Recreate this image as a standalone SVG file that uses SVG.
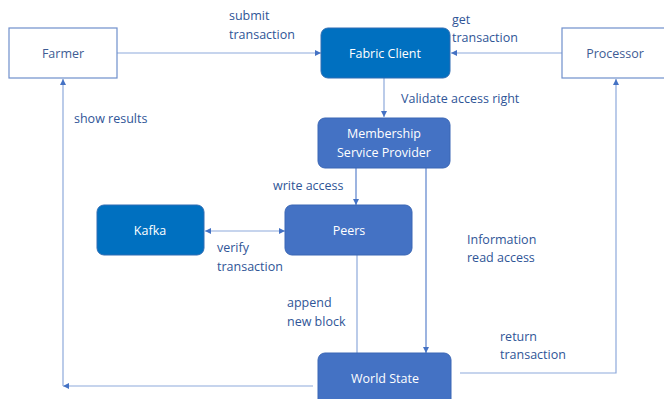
<svg xmlns="http://www.w3.org/2000/svg" width="664" height="399" viewBox="0 0 664 399">
<style>
text{font-family:"Open Sans","Liberation Sans",sans-serif;font-size:12.5px}
.lbl{fill:#2F5597}
.ntw{fill:#ffffff;text-anchor:middle}
.ntb{fill:#3E5C94;text-anchor:middle}
.box{fill:#ffffff;stroke:#6F8FCC;stroke-width:1.2}
.dark{fill:#0070C0;stroke:#2E6DB4;stroke-width:1}
.mid{fill:#4472C4;stroke:#3A66B5;stroke-width:1}
.c{fill:none;stroke:#8EA9DB;stroke-width:1.2}
.c2{fill:none;stroke:#5B82CC;stroke-width:1.2}
</style>
<defs>
<marker id="ah" viewBox="0 0 6 6" refX="6" refY="3" markerWidth="6" markerHeight="6" markerUnits="userSpaceOnUse" orient="auto-start-reverse">
<path d="M0,0 L6,3 L0,6 z" fill="#4472C4"/>
</marker>
</defs>
<rect width="664" height="399" fill="#ffffff"/>
<g id="connectors">
<line class="c" x1="117" y1="53" x2="321" y2="53" marker-end="url(#ah)"/>
<line class="c" x1="562" y1="53" x2="451" y2="53" marker-end="url(#ah)"/>
<line class="c" x1="384" y1="78" x2="384" y2="117" marker-end="url(#ah)"/>
<line class="c2" x1="356" y1="168" x2="356" y2="205" marker-end="url(#ah)"/>
<line class="c2" x1="426" y1="168" x2="426" y2="353" marker-end="url(#ah)"/>
<line class="c" x1="205" y1="231" x2="285" y2="231" marker-start="url(#ah)" marker-end="url(#ah)"/>
<line class="c" x1="357" y1="255" x2="357" y2="353"/>
<line class="c" x1="313" y1="386" x2="63" y2="386" marker-end="url(#ah)"/>
<line class="c" x1="63" y1="386" x2="63" y2="79" marker-end="url(#ah)"/>
<polyline class="c" points="460,373 616,373 616,79" marker-end="url(#ah)"/>
</g>
<g id="farmer">
<rect class="box" x="9" y="28" width="108" height="50"/>
<text class="ntb" x="63" y="58">Farmer</text>
</g>
<g id="fabric-client">
<rect class="dark" x="321" y="28" width="129" height="50" rx="7"/>
<text class="ntw" x="385" y="58">Fabric Client</text>
</g>
<g id="processor">
<rect class="box" x="562" y="28" width="106" height="50"/>
<text class="ntb" x="615" y="58">Processor</text>
</g>
<g id="msp">
<rect class="mid" x="318" y="118" width="132" height="50" rx="7"/>
<text class="ntw" x="384" y="138">Membership</text>
<text class="ntw" x="384" y="157">Service Provider</text>
</g>
<g id="kafka">
<rect class="dark" x="97" y="205" width="107" height="50" rx="7"/>
<text class="ntw" x="150" y="235">Kafka</text>
</g>
<g id="peers">
<rect class="mid" x="285" y="205" width="127" height="50" rx="7"/>
<text class="ntw" x="349" y="235">Peers</text>
</g>
<g id="world-state">
<rect class="mid" x="318" y="353" width="133" height="56" rx="7"/>
<text class="ntw" x="385" y="383">World State</text>
</g>
<g id="labels">
<text class="lbl" x="229" y="20">submit</text>
<text class="lbl" x="229" y="39">transaction</text>
<text class="lbl" x="452" y="24">get</text>
<text class="lbl" x="452" y="42">transaction</text>
<text class="lbl" x="401" y="103">Validate access right</text>
<text class="lbl" x="74" y="123">show results</text>
<text class="lbl" x="273" y="190">write access</text>
<text class="lbl" x="217" y="252">verify</text>
<text class="lbl" x="217" y="271">transaction</text>
<text class="lbl" x="287" y="307">append</text>
<text class="lbl" x="287" y="326">new block</text>
<text class="lbl" x="467" y="244">Information</text>
<text class="lbl" x="467" y="262">read access</text>
<text class="lbl" x="500" y="341">return</text>
<text class="lbl" x="500" y="359">transaction</text>
</g>
</svg>
